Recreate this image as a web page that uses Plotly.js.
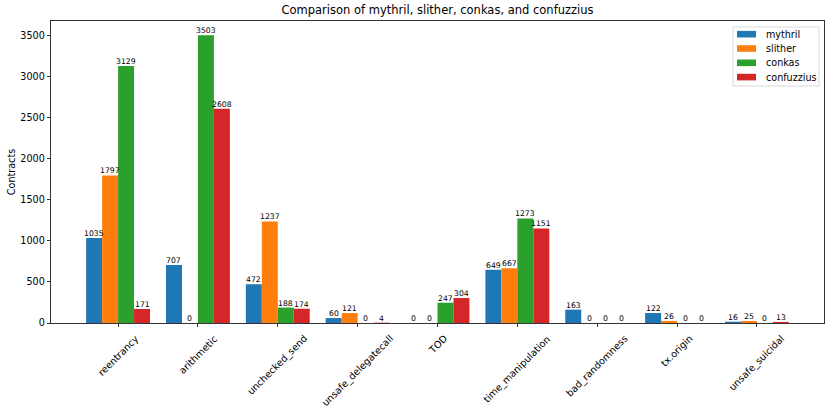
<!DOCTYPE html>
<html>
<head>
<meta charset="utf-8">
<script src="https://cdn.plot.ly/plotly-3.0.1.min.js"></script>
<style>
  html, body { margin: 0; padding: 0; background: #fff; }
  #chart { width: 831px; height: 412px; }
</style>
</head>
<body>
<div id="chart"></div>
<script>
const categories = ["reentrancy", "arithmetic", "unchecked_send", "unsafe_delegatecall", "TOD",
  "time_manipulation", "bad_randomness", "tx.origin", "unsafe_suicidal"];
const mythril    = [1035, 707, 472, 60, 0, 649, 163, 122, 16];
const slither    = [1797, 0, 1237, 121, 0, 667, 0, 26, 25];
const conkas     = [3129, 3503, 188, 0, 247, 1273, 0, 0, 0];
const confuzzius = [171, 2608, 174, 4, 304, 1151, 0, 0, 13];
const toolNames  = ["mythril", "slither", "conkas", "confuzzius"];
const yTicks = [0, 500, 1000, 1500, 2000, 2500, 3000, 3500];

const colors = ["#1f77b4", "#ff7f0e", "#2ca02c", "#d62728"];
const font = "DejaVu Sans, sans-serif";
const allSeries = [mythril, slither, conkas, confuzzius];

const W = 831, H = 412;
const margin = { l: 51, r: 7, t: 21, b: 89 };
const xRange = [-0.84, 8.84];
const plotW = W - margin.l - margin.r;
const plotH = H - margin.t - margin.b;
const pxPerCat = plotW / (xRange[1] - xRange[0]);
const barPx = pxPerCat * 0.8 / allSeries.length;

const data = allSeries.map((vals, i) => ({
  type: "bar",
  name: toolNames[i],
  x: categories,
  y: vals,
  marker: { color: colors[i] },
  showlegend: false
}));

// value labels sitting right on top of each bar (matplotlib bar_label look)
const valueNotes = [];
allSeries.forEach((vals, i) => {
  vals.forEach((v, j) => {
    valueNotes.push({
      x: categories[j], xref: "x", y: v, yref: "y",
      xshift: (i - 1.5) * barPx, yshift: -2,
      text: String(v), showarrow: false,
      xanchor: "center", yanchor: "bottom",
      font: { family: font, size: 7.7, color: "#000" }
    });
  });
});

// rotated category labels, centred under each tick
const labelNotes = categories.map(c => ({
  x: c, xref: "x",
  y: -7 / plotH, yref: "paper",
  text: c, showarrow: false,
  textangle: -45,
  xanchor: "center", yanchor: "top",
  font: { family: font, size: 9.6, color: "#000" }
}));

// compact legend drawn by hand (plotly's own rows are too tall)
const lg = { x0: 733, x1: 819, y0: 27, y1: 86, row: 14.3, first: 34.2 };
const px = v => (v - margin.l) / plotW;
const py = v => 1 - (v - margin.t) / plotH;
const legendShapes = [{
  type: "rect", xref: "paper", yref: "paper",
  x0: px(lg.x0), x1: px(lg.x1), y0: py(lg.y1), y1: py(lg.y0),
  fillcolor: "rgba(255,255,255,0.8)", line: { color: "#d9d9d9", width: 1 }
}];
const legendNotes = [];
toolNames.forEach((n, i) => {
  const cy = lg.first + i * lg.row;
  legendShapes.push({
    type: "rect", xref: "paper", yref: "paper",
    x0: px(737), x1: px(756), y0: py(cy + 3.3), y1: py(cy - 3.3),
    fillcolor: colors[i], line: { width: 0 }
  });
  legendNotes.push({
    x: px(763.5), xref: "paper", y: py(cy), yref: "paper",
    text: n, showarrow: false, xanchor: "left", yanchor: "middle",
    font: { family: font, size: 9.6, color: "#000" }
  });
});

const layout = {
  width: W, height: H,
  margin: margin,
  paper_bgcolor: "#fff", plot_bgcolor: "#fff",
  font: { family: font, size: 9.6, color: "#000" },
  title: {
    text: "Comparison of mythril, slither, conkas, and confuzzius",
    font: { family: font, size: 11.5, color: "#000" },
    x: 0.5265, xanchor: "center",
    y: 0.976, yanchor: "middle"
  },
  barmode: "group",
  bargap: 0.2,
  bargroupgap: 0,
  showlegend: false,
  xaxis: {
    type: "category",
    range: xRange,
    showticklabels: false,
    ticks: "outside", ticklen: 3.5, tickwidth: 0.8, tickcolor: "#000",
    showline: true, linecolor: "#000", linewidth: 0.8, mirror: true,
    showgrid: false, zeroline: false, fixedrange: true
  },
  yaxis: {
    range: [0, 3678],
    tickmode: "array", tickvals: yTicks, ticktext: yTicks.map(String),
    ticks: "outside", ticklen: 3.5, tickwidth: 0.8, tickcolor: "#000",
    tickfont: { family: font, size: 9.6, color: "#000" },
    showline: true, linecolor: "#000", linewidth: 0.8, mirror: true,
    showgrid: false, zeroline: false, fixedrange: true,
    title: { text: "Contracts", font: { family: font, size: 9.6, color: "#000" }, standoff: 2 }
  },
  shapes: legendShapes,
  annotations: labelNotes.concat(valueNotes, legendNotes)
};

Plotly.newPlot("chart", data, layout, { displayModeBar: false, staticPlot: true });
</script>
</body>
</html>
